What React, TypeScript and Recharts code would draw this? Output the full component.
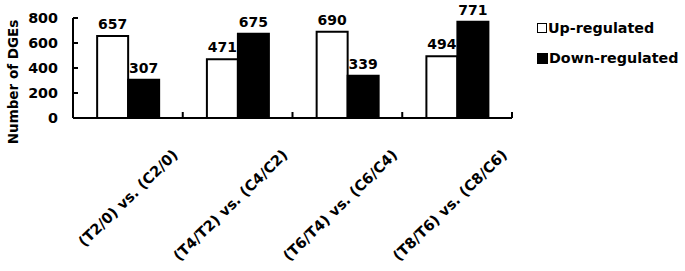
import { BarChart, Bar, XAxis, YAxis, LabelList } from 'recharts';

const categories = ['(T2/0) vs. (C2/0)', '(T4/T2) vs. (C4/C2)', '(T6/T4) vs. (C6/C4)', '(T8/T6) vs. (C8/C6)'];
const upRegulated = [657, 471, 690, 494];
const downRegulated = [307, 675, 339, 771];
const yTicks = [0, 200, 400, 600, 800];
const seriesNames = ['Up-regulated', 'Down-regulated'];

const data = categories.map((name, i) => ({ name, up: upRegulated[i], down: downRegulated[i] }));

const FONT = '"DejaVu Sans", Verdana, sans-serif';
const W = 685;
const H = 271;
const MARGIN = { top: 18, right: 173, left: 0, bottom: 3 };
const Y_AXIS_W = 73;
const Y_TICK_MARGIN = 15;
const HALF_BAND = (W - MARGIN.right - MARGIN.left - Y_AXIS_W) / categories.length / 2;

const CategoryTick = ({ x, y, payload }: any) => (
  <g>
    <line x1={x + HALF_BAND} x2={x + HALF_BAND} y1={y} y2={y - 6} stroke="#000" strokeWidth={2} />
    <text
      x={x + 51}
      y={y + 38}
      textAnchor="end"
      transform={`rotate(-44, ${x + 51}, ${y + 38})`}
      fontFamily={FONT}
      fontWeight="bold"
      fontSize={14.5}
      fill="#000"
    >
      {payload.value}
    </text>
  </g>
);

const ValueTick = ({ x, y, payload }: any) => (
  <g>
    {payload.value > 0 && (
      <line x1={x + Y_TICK_MARGIN} x2={x + Y_TICK_MARGIN + 5} y1={y} y2={y} stroke="#000" strokeWidth={2} />
    )}
    <text x={x} y={y} dy="0.36em" textAnchor="end" fontFamily={FONT} fontWeight="bold" fontSize={14.3} fill="#000">
      {payload.value}
    </text>
  </g>
);

const LegendBox = () => (
  <div
    style={{
      position: 'absolute',
      left: 537,
      top: 20,
      fontFamily: FONT,
      fontWeight: 'bold',
      fontSize: 14.3,
      color: '#000',
      lineHeight: '16px',
    }}
  >
    <div style={{ display: 'flex', alignItems: 'center', height: 16, marginBottom: 14 }}>
      <span style={{ width: 8, height: 8, border: '1.5px solid #000', background: '#fff', marginRight: 1 }} />
      {seriesNames[0]}
    </div>
    <div style={{ display: 'flex', alignItems: 'center', height: 16 }}>
      <span style={{ width: 11, height: 11, background: '#000', marginRight: 1 }} />
      {seriesNames[1]}
    </div>
  </div>
);

const labelStyle = { fontFamily: FONT, fontWeight: 'bold', fontSize: 14, fill: '#000' };

export default function App() {
  return (
    <div style={{ position: 'absolute', left: 0, top: 0, width: W, height: H, background: '#fff' }}>
      <BarChart width={W} height={H} data={data} margin={MARGIN} barCategoryGap="22%" barGap={0}>
        <XAxis
          dataKey="name"
          interval={0}
          height={150}
          tickLine={false}
          tickSize={0}
          tickMargin={0}
          axisLine={{ stroke: '#000', strokeWidth: 2 }}
          tick={<CategoryTick />}
        />
        <YAxis
          domain={[0, 800]}
          ticks={yTicks}
          width={Y_AXIS_W}
          tickLine={false}
          tickSize={0}
          tickMargin={Y_TICK_MARGIN}
          axisLine={{ stroke: '#000', strokeWidth: 2 }}
          tick={<ValueTick />}
          label={{
            value: 'Number of DGEs',
            angle: -90,
            position: 'insideLeft',
            dx: 8,
            dy: 14,
            style: { fontFamily: FONT, fontWeight: 'bold', fontSize: 13.5, fill: '#000', textAnchor: 'middle' },
          }}
        />
        <Bar dataKey="up" name={seriesNames[0]} fill="#fff" stroke="#000" strokeWidth={2} isAnimationActive={false}>
          <LabelList dataKey="up" position="top" offset={7} style={labelStyle} />
        </Bar>
        <Bar dataKey="down" name={seriesNames[1]} fill="#000" stroke="#000" strokeWidth={2} isAnimationActive={false}>
          <LabelList dataKey="down" position="top" offset={7} style={labelStyle} />
        </Bar>
      </BarChart>
      <LegendBox />
    </div>
  );
}
